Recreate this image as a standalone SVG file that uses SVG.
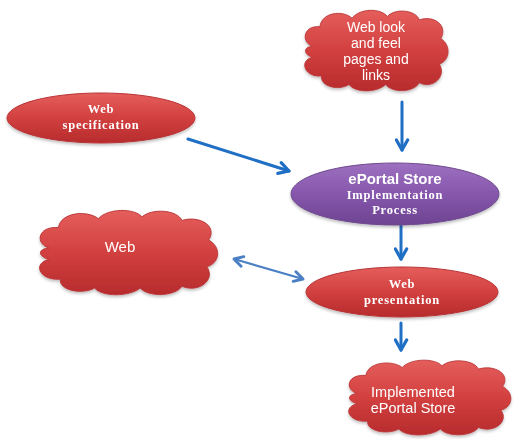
<svg xmlns="http://www.w3.org/2000/svg" width="516" height="439" viewBox="0 0 516 439">
  <style>
    .sans { font-family: "Liberation Sans", Arial, sans-serif; fill: #ffffff; text-anchor: middle; }
    .serif { font-family: "Liberation Serif", "Times New Roman", serif; fill: #ffffff; text-anchor: middle; font-weight: bold; letter-spacing: 0.8px; }
    .red { fill: url(#redGrad); stroke: #b83234; stroke-width: 1; }
    .purple { fill: url(#purpleGrad); stroke: #6f4a8e; stroke-width: 1; }
    .conn { fill: none; stroke: #1f6fc5; stroke-width: 3; stroke-linecap: round; }
    .conn2 { fill: none; stroke: #4a7fc4; stroke-width: 2.2; stroke-linecap: round; }
  </style>
  <defs>
    <linearGradient id="redGrad" x1="0" y1="0" x2="0" y2="1">
      <stop offset="0" stop-color="#e45e5c"/>
      <stop offset="0.5" stop-color="#d2403f"/>
      <stop offset="1" stop-color="#b72b2d"/>
    </linearGradient>
    <linearGradient id="purpleGrad" x1="0" y1="0" x2="0" y2="1">
      <stop offset="0" stop-color="#9d70c0"/>
      <stop offset="0.5" stop-color="#8657ac"/>
      <stop offset="1" stop-color="#6e4392"/>
    </linearGradient>
    <filter id="shadow" x="-10%" y="-10%" width="120%" height="130%">
      <feDropShadow dx="0" dy="2" stdDeviation="1.5" flood-color="#000" flood-opacity="0.25"/>
    </filter>
    <path id="cloud" d="M20,45 C5,40 8,20 30,22 C32,5 60,2 72,12 C82,0 110,0 118,10 C128,0 155,2 160,14 C178,8 198,20 188,36 C202,44 200,62 186,66 C196,80 178,96 160,88 C152,100 124,100 116,90 C104,100 76,100 68,90 C54,98 30,92 32,80 C10,82 2,62 20,58 C8,54 8,46 20,45 Z"/>
    <marker id="headB" viewBox="0 0 12 12" refX="10" refY="6" markerWidth="5" markerHeight="5" markerUnits="strokeWidth" orient="auto-start-reverse">
      <polyline points="2,1.5 10,6 2,10.5" fill="none" stroke="#1f6fc5" stroke-width="2.6" stroke-linecap="round" stroke-linejoin="round"/>
    </marker>
    <marker id="headL" viewBox="0 0 12 12" refX="10" refY="6" markerWidth="6" markerHeight="6" markerUnits="strokeWidth" orient="auto-start-reverse">
      <polyline points="2,1.5 10,6 2,10.5" fill="none" stroke="#4a7fc4" stroke-width="2.6" stroke-linecap="round" stroke-linejoin="round"/>
    </marker>
  </defs>

  <rect width="516" height="439" fill="#ffffff"/>

  <!-- connectors -->
  <g id="connectors">
    <line class="conn" x1="402" y1="102" x2="402" y2="150" marker-end="url(#headB)"/>
    <line class="conn" x1="188" y1="139" x2="289" y2="171" marker-end="url(#headB)"/>
    <line class="conn" x1="401" y1="225" x2="401" y2="259" marker-end="url(#headB)"/>
    <line class="conn2" x1="234" y1="259" x2="303" y2="279" marker-start="url(#headL)" marker-end="url(#headL)"/>
    <line class="conn" x1="401" y1="323" x2="401" y2="350" marker-end="url(#headB)"/>
  </g>

  <!-- top cloud -->
  <g id="node-lookfeel" filter="url(#shadow)">
    <use href="#cloud" class="red" transform="translate(297,8) scale(0.765,0.85)"/>
    <text class="sans" font-size="14" x="376" y="32">Web look</text>
    <text class="sans" font-size="14" x="376" y="48">and feel</text>
    <text class="sans" font-size="14" x="376" y="64">pages and</text>
    <text class="sans" font-size="14" x="376" y="80">links</text>
  </g>

  <!-- web specification -->
  <g id="node-spec" filter="url(#shadow)">
    <ellipse class="red" cx="101" cy="118" rx="94" ry="25"/>
    <text class="serif" font-size="12.5" x="101" y="113">Web</text>
    <text class="serif" font-size="12.5" x="101" y="129">specification</text>
  </g>

  <!-- implementation process -->
  <g id="node-process" filter="url(#shadow)">
    <ellipse class="purple" cx="395" cy="194" rx="104" ry="31"/>
    <text class="sans" font-size="15" font-weight="bold" x="395" y="184">ePortal Store</text>
    <text class="serif" font-size="12.5" x="395" y="199">Implementation</text>
    <text class="serif" font-size="12.5" x="395" y="214">Process</text>
  </g>

  <!-- web cloud -->
  <g id="node-web" filter="url(#shadow)">
    <use href="#cloud" class="red" transform="translate(30,208) scale(0.95,0.89)"/>
    <text class="sans" font-size="15" x="120" y="252">Web</text>
  </g>

  <!-- web presentation -->
  <g id="node-presentation" filter="url(#shadow)">
    <ellipse class="red" cx="402" cy="292" rx="96" ry="25"/>
    <text class="serif" font-size="12.5" x="402" y="288">Web</text>
    <text class="serif" font-size="12.5" x="402" y="304">presentation</text>
  </g>

  <!-- implemented store -->
  <g id="node-implemented" filter="url(#shadow)">
    <use href="#cloud" class="red" transform="translate(340,358) scale(0.865,0.79)"/>
    <text class="sans" font-size="14.5" x="413" y="397">Implemented</text>
    <text class="sans" font-size="14.5" x="413" y="413">ePortal Store</text>
  </g>
</svg>
